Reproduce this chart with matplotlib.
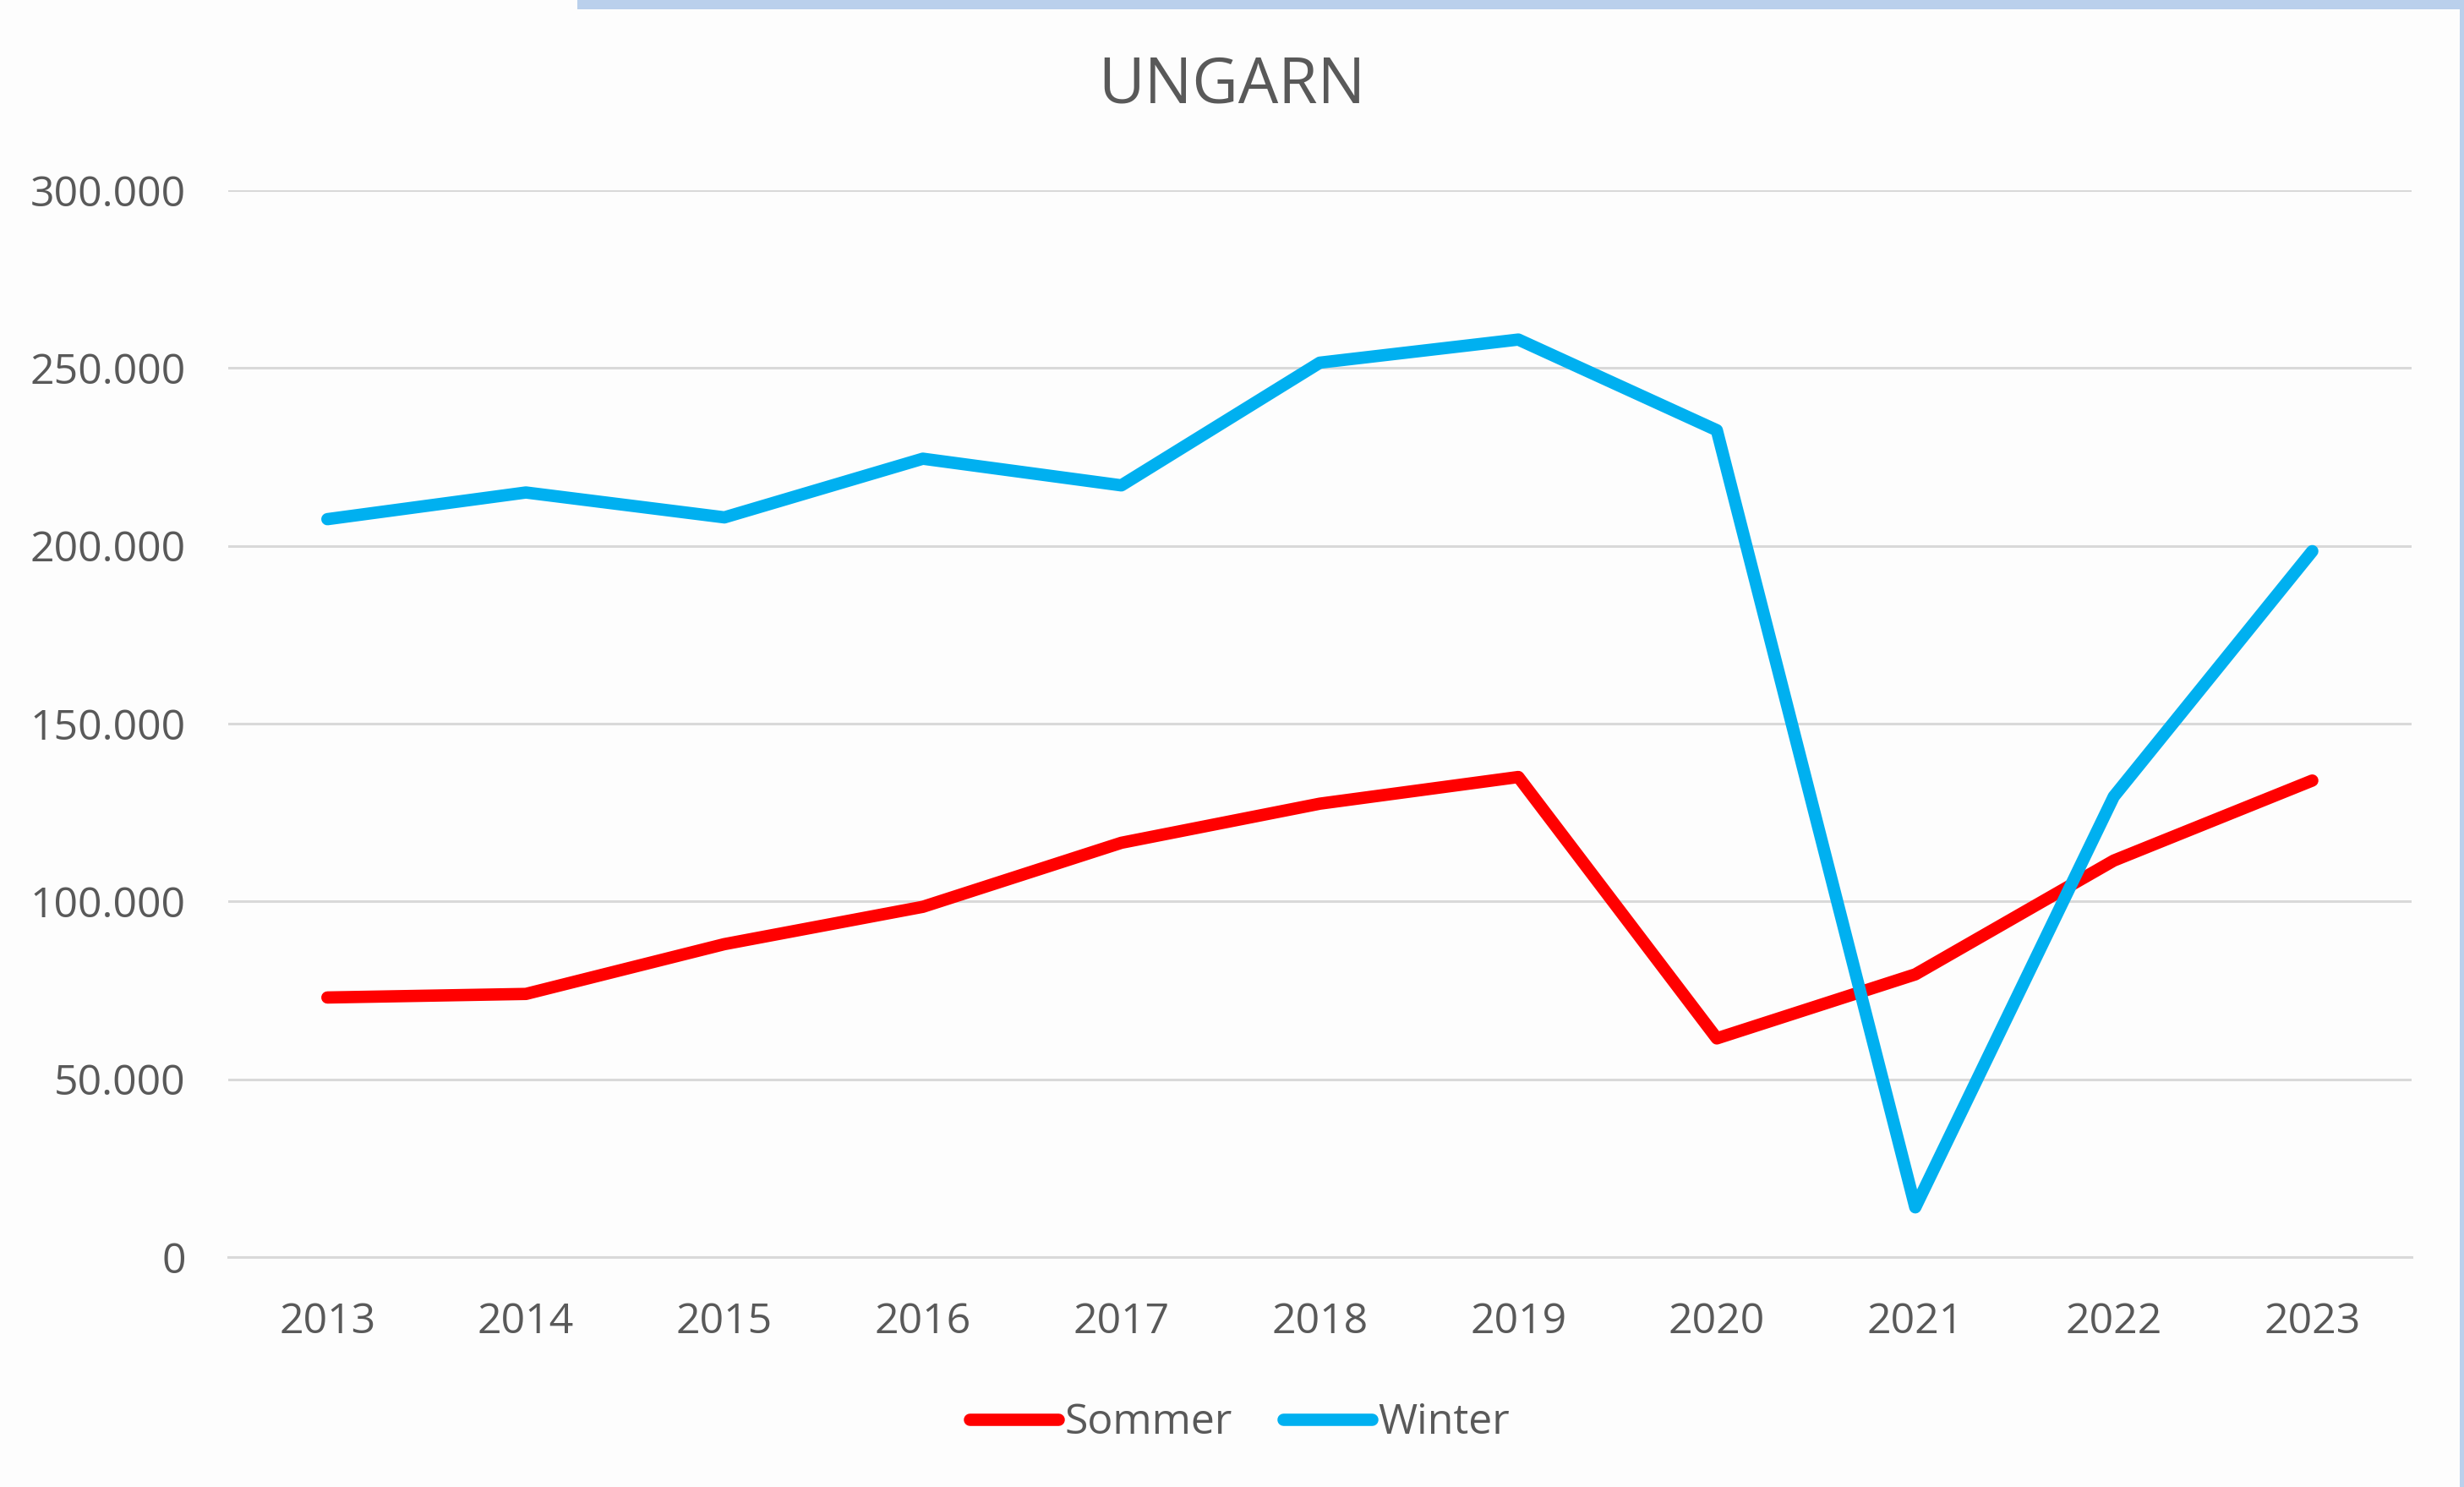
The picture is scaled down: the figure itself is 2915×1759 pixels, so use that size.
import matplotlib
matplotlib.use("Agg")
import matplotlib.pyplot as plt
from matplotlib.patches import Rectangle
from matplotlib.ticker import FuncFormatter, MultipleLocator
from matplotlib.lines import Line2D

years = ["2013", "2014", "2015", "2016", "2017", "2018", "2019", "2020", "2021", "2022", "2023"]
sommer = [73000, 74000, 88000, 98500, 116500, 127500, 135000, 61500, 79500, 111500, 134000]
winter = [207500, 215000, 208000, 224500, 217000, 251500, 258000, 232500, 14000, 129500, 198500]
title = "UNGARN"

FONT = "Open Sans"
TXT = "#595959"

fig = plt.figure(figsize=(29.15, 17.59), dpi=100, facecolor="#FDFDFD")
ax = fig.add_axes([0.0926, 0.1546, 0.8861, 0.7175])
ax.set_facecolor("none")

x = list(range(len(years)))
ax.plot(x, sommer, color="#FF0000", lw=10.5, solid_capstyle="round", solid_joinstyle="round", zorder=3)
ax.plot(x, winter, color="#00B0F0", lw=10.5, solid_capstyle="round", solid_joinstyle="round", zorder=3)

ax.set_xlim(-0.5, len(years) - 0.5)
ax.set_ylim(0, 300000)
ax.yaxis.set_major_locator(MultipleLocator(50000))
ax.yaxis.set_major_formatter(FuncFormatter(lambda v, p: f"{int(v):,}".replace(",", ".")))
ax.set_xticks(x)
ax.set_xticklabels(years)
ax.grid(axis="y", color="#D9D9D9", lw=2.2, zorder=0)
for s in ax.spines.values():
    s.set_visible(False)
ax.spines["bottom"].set_visible(True)
ax.spines["bottom"].set_color("#D9D9D9")
ax.spines["bottom"].set_linewidth(2.2)
ax.tick_params(axis="both", length=0, labelsize=36, labelcolor=TXT)
ax.tick_params(axis="y", pad=36)
ax.tick_params(axis="x", pad=38)
for lab in ax.get_xticklabels() + ax.get_yticklabels():
    lab.set_fontfamily(FONT)

fig.text(0.4998, 0.942, title, ha="center", va="center", fontsize=54, color=TXT, family=FONT)

handles = [Line2D([], [], color="#FF0000", lw=10.5, solid_capstyle="round"),
           Line2D([], [], color="#00B0F0", lw=10.5, solid_capstyle="round")]
leg = fig.legend(handles, ["Sommer", "Winter"], loc="center", bbox_to_anchor=(0.503, 0.043),
                 ncol=2, frameon=False, prop={"family": FONT, "size": 36},
                 handlelength=2.1, handletextpad=0.15, columnspacing=1.2)
for t in leg.get_texts():
    t.set_color(TXT)

fig.patches.append(Rectangle((683 / 2915, 1 - 11 / 1759), 1, 11 / 1759, transform=fig.transFigure,
                             facecolor="#BAD0EC", edgecolor="none", zorder=10))
fig.patches.append(Rectangle((2910 / 2915, 0), 5 / 2915, 1, transform=fig.transFigure,
                             facecolor="#BAD0EC", edgecolor="none", zorder=10))

fig.savefig("out.png", dpi=100, facecolor=fig.get_facecolor())
